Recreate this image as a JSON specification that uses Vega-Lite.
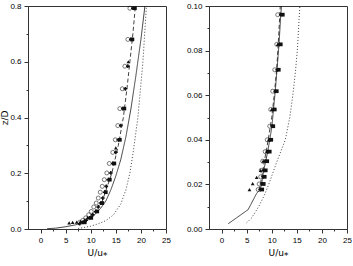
{
  "$schema": "https://vega.github.io/schema/vega-lite/v6.json",
  "background": "white",
  "padding": {"left": 0, "top": 1, "right": 0, "bottom": 0},
  "spacing": 14,
  "config": {
    "view": {"stroke": "#333", "strokeWidth": 1},
    "font": "Liberation Sans",
    "axis": {
      "domainColor": "#333", "tickColor": "#333", "labelColor": "#000", "titleColor": "#000",
      "labelFontSize": 8, "titleFontSize": 9, "titleFontWeight": "normal", "grid": false,
      "labelFont": "Liberation Sans", "titleFont": "DejaVu Sans", "labelPadding": 3,
      "labelOverlap": false, "labelFlush": false
    },
    "axisY": {"titlePadding": 0}
  },
  "datasets": {
    "leftLines": [
      {"s": "solid", "o": 1, "U": 1.3, "z": 0.001}, {"s": "solid", "o": 2, "U": 3, "z": 0.003}, {"s": "solid", "o": 3, "U": 5, "z": 0.008}, {"s": "solid", "o": 4, "U": 7, "z": 0.015}, {"s": "solid", "o": 5, "U": 8, "z": 0.02}, {"s": "solid", "o": 6, "U": 9, "z": 0.028}, {"s": "solid", "o": 7, "U": 10, "z": 0.04}, {"s": "solid", "o": 8, "U": 11, "z": 0.055}, {"s": "solid", "o": 9, "U": 12, "z": 0.075}, {"s": "solid", "o": 10, "U": 13, "z": 0.1}, {"s": "solid", "o": 11, "U": 14, "z": 0.14}, {"s": "solid", "o": 12, "U": 15, "z": 0.19}, {"s": "solid", "o": 13, "U": 16, "z": 0.25}, {"s": "solid", "o": 14, "U": 17, "z": 0.33}, {"s": "solid", "o": 15, "U": 18, "z": 0.43}, {"s": "solid", "o": 16, "U": 19, "z": 0.55}, {"s": "solid", "o": 17, "U": 20, "z": 0.68}, {"s": "solid", "o": 18, "U": 20.8, "z": 0.8},
      {"s": "dashed", "o": 1, "U": 7.5, "z": 0.015}, {"s": "dashed", "o": 2, "U": 9, "z": 0.03}, {"s": "dashed", "o": 3, "U": 10.3, "z": 0.05}, {"s": "dashed", "o": 4, "U": 12.3, "z": 0.1}, {"s": "dashed", "o": 5, "U": 14.2, "z": 0.2}, {"s": "dashed", "o": 6, "U": 15.5, "z": 0.3}, {"s": "dashed", "o": 7, "U": 16.5, "z": 0.4}, {"s": "dashed", "o": 8, "U": 17.2, "z": 0.5}, {"s": "dashed", "o": 9, "U": 17.8, "z": 0.6}, {"s": "dashed", "o": 10, "U": 18.4, "z": 0.7}, {"s": "dashed", "o": 11, "U": 18.9, "z": 0.8},
      {"s": "dotted", "o": 1, "U": 7.5, "z": 0.002}, {"s": "dotted", "o": 2, "U": 8.5, "z": 0.005}, {"s": "dotted", "o": 3, "U": 10, "z": 0.01}, {"s": "dotted", "o": 4, "U": 11.7, "z": 0.02}, {"s": "dotted", "o": 5, "U": 13, "z": 0.03}, {"s": "dotted", "o": 6, "U": 14.5, "z": 0.05}, {"s": "dotted", "o": 7, "U": 16, "z": 0.09}, {"s": "dotted", "o": 8, "U": 17, "z": 0.14}, {"s": "dotted", "o": 9, "U": 17.8, "z": 0.2}, {"s": "dotted", "o": 10, "U": 18.5, "z": 0.28}, {"s": "dotted", "o": 11, "U": 19.4, "z": 0.4}, {"s": "dotted", "o": 12, "U": 20.4, "z": 0.6}, {"s": "dotted", "o": 13, "U": 21.1, "z": 0.8}
    ],
    "leftOpen": [
      {"U": 17.8, "z": 0.792}, {"U": 17.4, "z": 0.68}, {"U": 16.8, "z": 0.584}, {"U": 16.3, "z": 0.503}, {"U": 15.8, "z": 0.432}, {"U": 15.4, "z": 0.371}, {"U": 14.9, "z": 0.32}, {"U": 14.4, "z": 0.275}, {"U": 13.7, "z": 0.235}, {"U": 13.2, "z": 0.201}, {"U": 12.7, "z": 0.177}, {"U": 12.3, "z": 0.153}, {"U": 11.9, "z": 0.132}, {"U": 11.5, "z": 0.111}, {"U": 11.1, "z": 0.093}, {"U": 10.6, "z": 0.079}, {"U": 10.1, "z": 0.063}, {"U": 9.6, "z": 0.051}, {"U": 9.0, "z": 0.04}, {"U": 8.4, "z": 0.031}, {"U": 7.8, "z": 0.024}
    ],
    "leftFilled": [
      {"sh": "cross", "U": 18.4, "z": 0.792}, {"sh": "cross", "U": 18.0, "z": 0.68}, {"sh": "cross", "U": 17.4, "z": 0.584}, {"sh": "cross", "U": 16.9, "z": 0.503}, {"sh": "cross", "U": 16.4, "z": 0.432}, {"sh": "cross", "U": 16.0, "z": 0.371}, {"sh": "cross", "U": 15.5, "z": 0.32}, {"sh": "cross", "U": 15.0, "z": 0.275}, {"sh": "cross", "U": 14.4, "z": 0.235}, {"sh": "cross", "U": 14.0, "z": 0.201}, {"sh": "cross", "U": 13.5, "z": 0.177}, {"sh": "cross", "U": 13.1, "z": 0.153}, {"sh": "cross", "U": 12.8, "z": 0.132}, {"sh": "cross", "U": 12.4, "z": 0.111}, {"sh": "cross", "U": 12.0, "z": 0.093}, {"sh": "cross", "U": 11.5, "z": 0.079}, {"sh": "cross", "U": 11.0, "z": 0.063}, {"sh": "cross", "U": 10.4, "z": 0.051}, {"sh": "cross", "U": 9.8, "z": 0.04}, {"sh": "cross", "U": 9.1, "z": 0.031}, {"sh": "cross", "U": 8.4, "z": 0.024}, {"sh": "cross", "U": 7.8, "z": 0.019},
      {"sh": "square", "U": 18.8, "z": 0.792}, {"sh": "square", "U": 18.3, "z": 0.68}, {"sh": "square", "U": 16.7, "z": 0.432}, {"sh": "square", "U": 15.8, "z": 0.32}, {"sh": "square", "U": 14.7, "z": 0.235}, {"sh": "square", "U": 13.8, "z": 0.177}, {"sh": "square", "U": 13.0, "z": 0.132}, {"sh": "square", "U": 12.3, "z": 0.093}, {"sh": "square", "U": 11.3, "z": 0.063}, {"sh": "square", "U": 10.1, "z": 0.04}, {"sh": "square", "U": 8.8, "z": 0.024},
      {"sh": "triangle-up", "U": 17.5, "z": 0.6}, {"sh": "triangle-up", "U": 15.0, "z": 0.291}, {"sh": "triangle-up", "U": 5.7, "z": 0.022}, {"sh": "triangle-up", "U": 6.4, "z": 0.024}, {"sh": "triangle-up", "U": 7.2, "z": 0.025}, {"sh": "triangle-up", "U": 8.0, "z": 0.027}, {"sh": "triangle-up", "U": 8.8, "z": 0.033}, {"sh": "triangle-up", "U": 9.4, "z": 0.042}
    ],
    "rightLines": [
      {"s": "solid", "o": 1, "U": 1.35, "z": 0.0024}, {"s": "solid", "o": 2, "U": 3.3, "z": 0.0055}, {"s": "solid", "o": 3, "U": 5.3, "z": 0.0087}, {"s": "solid", "o": 4, "U": 7.0, "z": 0.016}, {"s": "solid", "o": 5, "U": 7.7, "z": 0.0177}, {"s": "solid", "o": 6, "U": 8.0, "z": 0.0202}, {"s": "solid", "o": 7, "U": 8.4, "z": 0.0263}, {"s": "solid", "o": 8, "U": 8.8, "z": 0.0304}, {"s": "solid", "o": 9, "U": 9.2, "z": 0.0347}, {"s": "solid", "o": 10, "U": 9.6, "z": 0.04}, {"s": "solid", "o": 11, "U": 10.05, "z": 0.0461}, {"s": "solid", "o": 12, "U": 10.35, "z": 0.0536}, {"s": "solid", "o": 13, "U": 10.7, "z": 0.0618}, {"s": "solid", "o": 14, "U": 11.05, "z": 0.0714}, {"s": "solid", "o": 15, "U": 11.45, "z": 0.0828}, {"s": "solid", "o": 16, "U": 11.8, "z": 0.0961}, {"s": "solid", "o": 17, "U": 11.95, "z": 0.1},
      {"s": "dashed", "o": 1, "U": 7.5, "z": 0.0175}, {"s": "dashed", "o": 2, "U": 7.9, "z": 0.022}, {"s": "dashed", "o": 3, "U": 8.5, "z": 0.03}, {"s": "dashed", "o": 4, "U": 9.3, "z": 0.04}, {"s": "dashed", "o": 5, "U": 10.0, "z": 0.05}, {"s": "dashed", "o": 6, "U": 10.5, "z": 0.06}, {"s": "dashed", "o": 7, "U": 11.0, "z": 0.072}, {"s": "dashed", "o": 8, "U": 11.3, "z": 0.083}, {"s": "dashed", "o": 9, "U": 11.7, "z": 0.1},
      {"s": "dotted", "o": 1, "U": 5.0, "z": 0.0028}, {"s": "dotted", "o": 2, "U": 6.0, "z": 0.005}, {"s": "dotted", "o": 3, "U": 7.4, "z": 0.01}, {"s": "dotted", "o": 4, "U": 8.5, "z": 0.015}, {"s": "dotted", "o": 5, "U": 9.4, "z": 0.02}, {"s": "dotted", "o": 6, "U": 11.0, "z": 0.03}, {"s": "dotted", "o": 7, "U": 12.7, "z": 0.04}, {"s": "dotted", "o": 8, "U": 13.6, "z": 0.05}, {"s": "dotted", "o": 9, "U": 14.2, "z": 0.06}, {"s": "dotted", "o": 10, "U": 14.7, "z": 0.07}, {"s": "dotted", "o": 11, "U": 15.1, "z": 0.08}, {"s": "dotted", "o": 12, "U": 15.6, "z": 0.1}
    ],
    "rightOpen": [
      {"U": 11.2, "z": 0.0961}, {"U": 11.0, "z": 0.0828}, {"U": 10.6, "z": 0.0714}, {"U": 10.2, "z": 0.0618}, {"U": 9.8, "z": 0.0536}, {"U": 9.6, "z": 0.0461}, {"U": 9.1, "z": 0.04}, {"U": 8.7, "z": 0.0347}, {"U": 8.2, "z": 0.0304}, {"U": 7.9, "z": 0.0263}, {"U": 7.8, "z": 0.0234}, {"U": 7.5, "z": 0.0202}, {"U": 7.3, "z": 0.0177}
    ],
    "rightFilled": [
      {"sh": "cross", "U": 11.8, "z": 0.0961}, {"sh": "cross", "U": 11.5, "z": 0.0828}, {"sh": "cross", "U": 11.1, "z": 0.0714}, {"sh": "cross", "U": 10.7, "z": 0.0618}, {"sh": "cross", "U": 10.3, "z": 0.0536}, {"sh": "cross", "U": 10.1, "z": 0.0461}, {"sh": "cross", "U": 9.6, "z": 0.04}, {"sh": "cross", "U": 9.2, "z": 0.0347}, {"sh": "cross", "U": 8.7, "z": 0.0304}, {"sh": "cross", "U": 8.4, "z": 0.0263}, {"sh": "cross", "U": 8.3, "z": 0.0234}, {"sh": "cross", "U": 8.0, "z": 0.0202}, {"sh": "cross", "U": 7.7, "z": 0.0177},
      {"sh": "square", "U": 12.2, "z": 0.0961}, {"sh": "square", "U": 11.8, "z": 0.0828}, {"sh": "square", "U": 11.4, "z": 0.0714}, {"sh": "square", "U": 11.0, "z": 0.0618}, {"sh": "square", "U": 10.6, "z": 0.0536}, {"sh": "square", "U": 10.3, "z": 0.0461}, {"sh": "square", "U": 9.9, "z": 0.04}, {"sh": "square", "U": 9.6, "z": 0.0347}, {"sh": "square", "U": 9.1, "z": 0.0304}, {"sh": "square", "U": 8.8, "z": 0.0263}, {"sh": "square", "U": 8.6, "z": 0.0234}, {"sh": "square", "U": 8.4, "z": 0.0202}, {"sh": "square", "U": 8.1, "z": 0.0177},
      {"sh": "triangle-up", "U": 5.57, "z": 0.0177}, {"sh": "triangle-up", "U": 6.2, "z": 0.0204}, {"sh": "triangle-up", "U": 7.0, "z": 0.0232}, {"sh": "triangle-up", "U": 7.8, "z": 0.0263}, {"sh": "triangle-up", "U": 8.3, "z": 0.0304}, {"sh": "triangle-up", "U": 9.0, "z": 0.0347}, {"sh": "triangle-up", "U": 9.4, "z": 0.04}, {"sh": "triangle-up", "U": 10.0, "z": 0.0536}, {"sh": "triangle-up", "U": 11.2, "z": 0.0828}
    ]
  },
  "hconcat": [
    {
      "width": 138,
      "height": 223,
      "encoding": {
        "x": {"field": "U", "type": "quantitative", "scale": {"domain": [-2.5, 25], "nice": false, "zero": false},
          "axis": {"title": "U/u⁎", "values": [0, 2.5, 5, 7.5, 10, 12.5, 15, 17.5, 20, 22.5, 25], "labelOverlap": false, "labelFlush": false, "labelBound": false,
            "labelExpr": "abs(datum.value % 5) < 0.01 ? format(datum.value, 'd') : ''",
            "tickSize": {"condition": {"test": "abs(datum.value % 5) < 0.01", "value": 4}, "value": 2}}},
        "y": {"field": "z", "type": "quantitative", "scale": {"domain": [0, 0.8], "nice": false},
          "axis": {"title": "z/D", "format": ".1f", "values": [0, 0.1, 0.2, 0.3, 0.4, 0.5, 0.6, 0.7, 0.8], "labelOverlap": false,
            "labelExpr": "round(datum.value*10) % 2 === 0 ? datum.label : ''",
            "tickSize": {"condition": {"test": "round(datum.value*10) % 2 === 0", "value": 4}, "value": 2}}}
      },
      "layer": [
        {
          "data": {"name": "leftLines"},
          "mark": {"type": "line", "color": "#111", "strokeWidth": 0.8, "clip": true},
          "encoding": {
            "order": {"field": "o"},
            "detail": {"field": "s"},
            "strokeDash": {"field": "s", "type": "nominal", "legend": null,
              "scale": {"domain": ["solid", "dashed", "dotted"], "range": [[1, 0], [4, 2.5], [1, 2]]}}
          }
        },
        {
          "data": {"name": "leftOpen"},
          "mark": {"type": "point", "filled": false, "color": "#111", "size": 16, "strokeWidth": 0.8},
          "encoding": {}
        },
        {
          "data": {"name": "leftFilled"},
          "mark": {"type": "point", "filled": true, "color": "#111", "size": 14, "opacity": 1},
          "encoding": {"shape": {"field": "sh", "type": "nominal", "scale": null, "legend": null}}
        }
      ]
    },
    {
      "width": 138,
      "height": 223,
      "encoding": {
        "x": {"field": "U", "type": "quantitative", "scale": {"domain": [-2.5, 25], "nice": false, "zero": false},
          "axis": {"title": "U/u⁎", "values": [0, 2.5, 5, 7.5, 10, 12.5, 15, 17.5, 20, 22.5, 25], "labelOverlap": false, "labelFlush": false, "labelBound": false,
            "labelExpr": "abs(datum.value % 5) < 0.01 ? format(datum.value, 'd') : ''",
            "tickSize": {"condition": {"test": "abs(datum.value % 5) < 0.01", "value": 4}, "value": 2}}},
        "y": {"field": "z", "type": "quantitative", "scale": {"domain": [0, 0.1], "nice": false},
          "axis": {"title": null, "format": ".2f", "values": [0, 0.01, 0.02, 0.03, 0.04, 0.05, 0.06, 0.07, 0.08, 0.09, 0.1], "labelOverlap": false,
            "labelExpr": "round(datum.value*100) % 2 === 0 ? datum.label : ''",
            "tickSize": {"condition": {"test": "round(datum.value*100) % 2 === 0", "value": 4}, "value": 2}}}
      },
      "layer": [
        {
          "data": {"name": "rightLines"},
          "mark": {"type": "line", "color": "#111", "strokeWidth": 0.8, "clip": true},
          "encoding": {
            "order": {"field": "o"},
            "detail": {"field": "s"},
            "strokeDash": {"field": "s", "type": "nominal", "legend": null,
              "scale": {"domain": ["solid", "dashed", "dotted"], "range": [[1, 0], [4, 2.5], [1, 2]]}}
          }
        },
        {
          "data": {"name": "rightOpen"},
          "mark": {"type": "point", "filled": false, "color": "#111", "size": 16, "strokeWidth": 0.8},
          "encoding": {}
        },
        {
          "data": {"name": "rightFilled"},
          "mark": {"type": "point", "filled": true, "color": "#111", "size": 14, "opacity": 1},
          "encoding": {"shape": {"field": "sh", "type": "nominal", "scale": null, "legend": null}}
        }
      ]
    }
  ]
}
